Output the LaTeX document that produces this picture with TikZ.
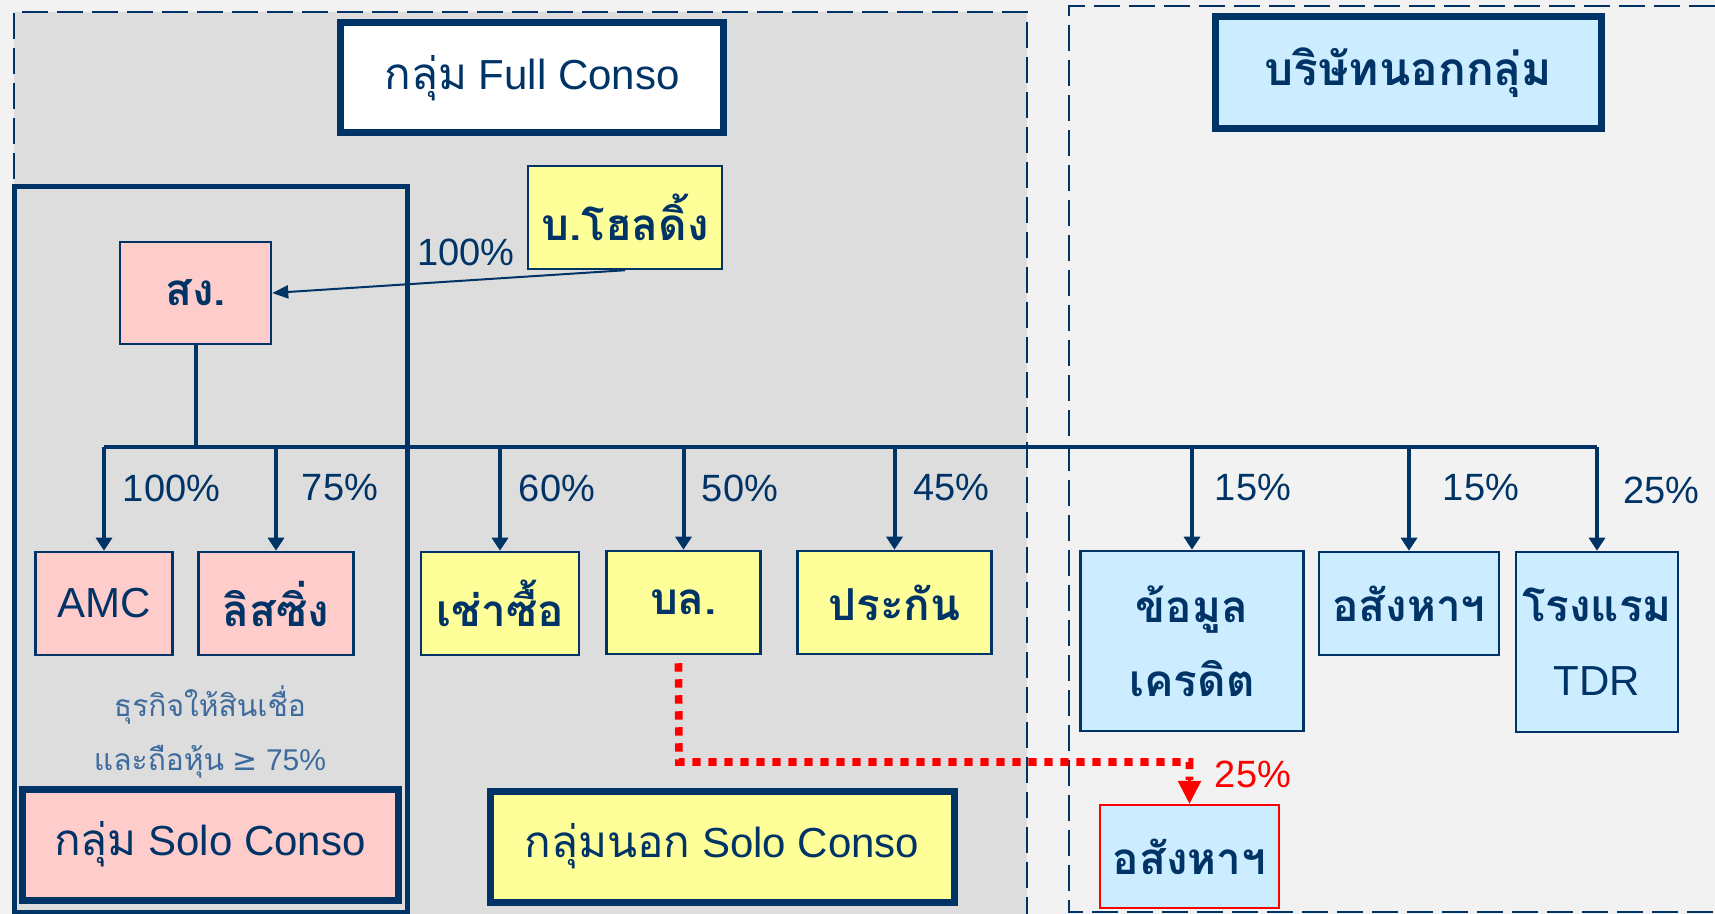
\documentclass[tikz,border=0pt]{standalone}
\usepackage{fontspec}
\setmainfont{Liberation Sans}
\newfontfamily\thaifont[Script=Thai]{Loma}
\newfontfamily\symfont{DejaVu Sans}
\usetikzlibrary{arrows.meta}
\definecolor{navy}{HTML}{003366}
\definecolor{pinkf}{HTML}{FFCCCC}
\definecolor{yellowf}{HTML}{FFFF99}
\definecolor{bluef}{HTML}{CCECFF}
\definecolor{grayf}{HTML}{DDDDDD}
\definecolor{bgf}{HTML}{F2F2F2}
\definecolor{notec}{HTML}{3E6B9E}
\definecolor{redc}{HTML}{FF0000}
\tikzset{
  dashline/.style={draw=navy, line width=1.2pt, dash pattern=on 13pt off 4.5pt},
  bx/.style={draw=navy, line width=1.25pt, text=navy, align=center, inner sep=0pt,
    font=\thaifont\bfseries\fontsize{22}{37}\selectfont},
  pinkbox/.style={bx, fill=pinkf},
  yelbox/.style={bx, fill=yellowf},
  bluebox/.style={bx, fill=bluef},
  hd/.style={draw=navy, line width=3.5pt, text=navy, inner sep=0pt, align=center,
    font=\fontsize{21}{25}\selectfont},
  pc/.style={text=navy, inner sep=0pt, font=\fontsize{19}{22}\selectfont},
  conn/.style={draw=navy, line width=2pt},
  arr/.style={conn, -{Triangle[width=8pt,length=6.5pt]}},
  note/.style={text=notec, inner sep=0pt, align=center, font=\fontsize{15}{27}\selectfont}
}
\begin{document}
\begin{tikzpicture}[x=0.5pt,y=-0.5pt]
\useasboundingbox (0,0) rectangle (1715,914);
\fill[bgf] (0,0) rectangle (1715,914);
\fill[grayf] (14,12) rectangle (1027,914);
\draw[dashline] (14,914) -- (14,12) -- (1027,12) -- (1027,914);
\draw[dashline] (1715,6) -- (1069,6) -- (1069,912) -- (1715,912);
\draw[navy, line width=2.5pt] (14,187) rectangle (407,912);

% headers
\node[hd, fill=white, minimum width=191.5pt, minimum height=55pt] (hdrL) at (532,78) {{\thaifont\fontsize{22}{25}\selectfont กลุ่ม} Full Conso};
\node[hd, fill=bluef, minimum width=193pt, minimum height=56pt] (hdrR) at (1408.5,73) {{\thaifont\bfseries\fontsize{23}{25}\selectfont บริษัทนอกกลุ่ม}};

% boxes
\node[yelbox, minimum width=97pt, minimum height=51.5pt] (hold) at (625,217.5) {บ.โฮลดิ้ง};
\node[pinkbox, minimum width=75.5pt, minimum height=51pt] (sg) at (195.5,293) {สง.};
\node[pinkbox, minimum width=68.5pt, minimum height=51.5pt] (amc) at (104,603.5) {\normalfont\fontsize{21}{25}\selectfont AMC};
\node[pinkbox, minimum width=77.5pt, minimum height=51.5pt] (lis) at (276,603.5) {ลิสซิ่ง};
\node[yelbox, minimum width=79pt, minimum height=51.5pt] (chs) at (500,603.5) {เช่าซื้อ};
\node[yelbox, minimum width=77pt, minimum height=51.5pt] (bl) at (683.5,602.5) {บล.};
\node[yelbox, minimum width=97pt, minimum height=51.5pt] (pk) at (894.5,602.5) {ประกัน};
\node[bluebox, minimum width=111.5pt, minimum height=90pt] (cred) at (1192,641) {ข้อมูล\\เครดิต};
\node[bluebox, minimum width=90pt, minimum height=51.5pt] (re) at (1409,603.5) {อสังหาฯ};
\node[bluebox, minimum width=81pt, minimum height=90pt] (htl) at (1597,642) {โรงแรม\\{\normalfont\fontsize{21}{25}\selectfont TDR}};
\node[bluebox, draw=redc, minimum width=89.5pt, minimum height=51.5pt] (re2) at (1189.5,856.5) {อสังหาฯ};

% group labels
\node[hd, fill=pinkf, minimum width=188pt, minimum height=55.5pt] (soloL) at (210,844.5) {{\thaifont\fontsize{22}{25}\selectfont กลุ่ม} Solo Conso};
\node[hd, fill=yellowf, minimum width=232pt, minimum height=55.5pt] (soloR) at (722,846.5) {{\thaifont\fontsize{22}{25}\selectfont กลุ่มนอก} Solo Conso};

% note
\node[note] (note) at (210,732) {{\thaifont ธุรกิจให้สินเชื่อ}\\{\thaifont และถือหุ้น} {\symfont ≥} 75\%};

% connectors
\draw[navy, line width=1pt, -{Triangle[width=6.5pt,length=8pt]}] (hold.south) -- (sg.east);
\node[pc] (p0) at (466,252) {100\%};
\coordinate (busL) at (104,447);
\coordinate (busR) at (1597,447);
\coordinate (busS) at (195.5,447);
\draw[conn] (sg.south) -- (busS);
\draw[conn] (busL) -- (busR);
\foreach \t in {amc,lis,chs,bl,pk,cred,re,htl}{
  \draw[arr] (\t.north |- busL) -- (\t.north);
}
\node[pc] at (171.5,488) {100\%};
\node[pc] at (340,488) {75\%};
\node[pc] at (557,488) {60\%};
\node[pc] at (740,488) {50\%};
\node[pc] at (951.5,488) {45\%};
\node[pc] at (1253,488) {15\%};
\node[pc] at (1481,488) {15\%};
\node[pc] at (1661.5,490) {25\%};

% red dotted link
\coordinate (rd1) at (679,762);
\coordinate (rd2) at (1189.5,762);
\draw[redc, line width=3.8pt, dash pattern=on 4.2pt off 3.8pt] ([xshift=-2.5pt,yshift=-4pt]bl.south) -- (rd1) -- (rd2) -- ([yshift=12pt]re2.north);
\draw[redc, line width=1.5pt, -{Triangle[width=11.5pt,length=11.5pt]}] ([yshift=13pt]re2.north) -- (re2.north);
\node[pc, text=redc] at (1253,774) {25\%};
\end{tikzpicture}
\end{document}
